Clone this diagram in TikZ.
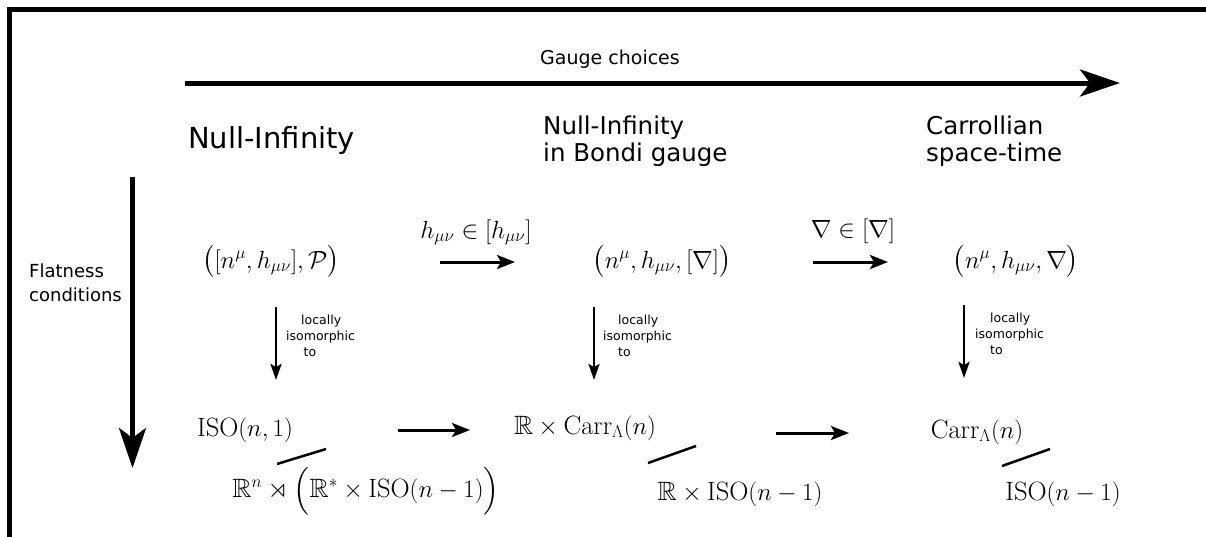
\documentclass[tikz,border=0pt]{standalone}
\usepackage{amsmath,amssymb}
\usepackage{fontspec}
\newfontfamily\dejavu{DejaVu Sans}
\usetikzlibrary{arrows.meta}
\begin{document}
\begin{tikzpicture}[x=1pt,y=-1pt,
  bigarrow/.style={line width=5pt,-{Stealth[length=40pt,width=27pt,inset=10pt]}},
  midarrow/.style={line width=3pt,-{Stealth[length=18pt,width=14pt,inset=4pt]}},
  downarrow/.style={line width=2.5pt,-{Stealth[length=16pt,width=11pt,inset=3pt]}},
  slashline/.style={line width=2.5pt},
  mathlbl/.style={inner sep=0pt,anchor=base,font=\fontsize{26.5}{31}\selectfont},
  titlebig/.style={inner sep=0pt,anchor=base west,font=\dejavu\fontsize{29}{34}\selectfont},
  title/.style={inner sep=0pt,anchor=north west,align=left,font=\dejavu\fontsize{24.5}{27}\selectfont},
  sidetext/.style={inner sep=0pt,anchor=north west,align=left,font=\dejavu\fontsize{18}{24}\selectfont},
  smalltext/.style={inner sep=0pt,anchor=north west,align=left,font=\dejavu\fontsize{12.5}{16}\selectfont},
  gaugetext/.style={inner sep=0pt,anchor=base,font=\dejavu\fontsize{19}{23}\selectfont}]
\useasboundingbox (0,0) rectangle (1206,536);
% frame
\coordinate (fbl) at (9.5,545);
\coordinate (ftl) at (9.5,9);
\coordinate (ftr) at (1215,9);
\draw[line width=5pt] (fbl) -- (ftl) -- (ftr);
% gauge choices
\node[gaugetext] (gauge) at (610,64) {Gauge choices};
\coordinate (ga) at (185,83);
\coordinate (gb) at (1120,83);
\draw[bigarrow] (ga) -- (gb);
% flatness
\node[sidetext] (flat) at (29,263.5) {Flatness\\conditions};
\coordinate (fa) at (132.5,177);
\coordinate (fb) at (132.5,468);
\draw[bigarrow] (fa) -- (fb);
% titles
\node[titlebig] (t1) at (188,148) {Null-Infinity};
\node[title] (t2) at (543,116) {Null-Infinity\\in Bondi gauge};
\node[title] (t3) at (926,116) {Carrollian\\space-time};
% row 1
\node[mathlbl] (r1a) at (271,268) {$\bigl([n^\mu,h_{\mu\nu}],\mathcal{P}\bigr)$};
\node[mathlbl] (r1b) at (662,268) {$\bigl(n^\mu,h_{\mu\nu},[\nabla]\bigr)$};
\node[mathlbl] (r1c) at (1016,268) {$\bigl(n^\mu,h_{\mu\nu},\nabla\bigr)$};
\node[mathlbl] (l1) at (476,238) {$h_{\mu\nu}\in[h_{\mu\nu}]$};
\node[mathlbl] (l2) at (853,237) {$\nabla\in[\nabla]$};
\coordinate (a1s) at (440,262);
\coordinate (a1e) at (515,262);
\coordinate (a2s) at (813,262);
\coordinate (a2e) at (888,262);
\draw[midarrow] (a1s) -- (a1e);
\draw[midarrow] (a2s) -- (a2e);
% down arrows
\coordinate (d1s) at (276,307);
\coordinate (d1e) at (276,380);
\coordinate (d2s) at (594,307);
\coordinate (d2e) at (594,380);
\coordinate (d3s) at (964,305);
\coordinate (d3e) at (964,378);
\draw[downarrow] (d1s) -- (d1e);
\draw[downarrow] (d2s) -- (d2e);
\draw[downarrow] (d3s) -- (d3e);
\node[smalltext] (i1) at (286,314.5) {\hspace*{1.2em}locally\\isomorphic\\\hspace*{1.4em}to};
\node[smalltext] (i2) at (603,314.5) {\hspace*{1.2em}locally\\isomorphic\\\hspace*{1.2em}to};
\node[smalltext] (i3) at (975,312.5) {\hspace*{1.2em}locally\\isomorphic\\\hspace*{1.2em}to};
% row 2
\node[mathlbl] (r2a) at (245,436) {$\mathrm{ISO}(n,1)$};
\node[mathlbl] (r2b) at (585,434) {$\mathbb{R}\times\mathrm{Carr}_\Lambda(n)$};
\node[mathlbl] (r2c) at (977,438) {$\mathrm{Carr}_\Lambda(n)$};
\coordinate (b1s) at (398,430);
\coordinate (b1e) at (470,430);
\coordinate (b2s) at (776,433);
\coordinate (b2e) at (849,433);
\draw[midarrow] (b1s) -- (b1e);
\draw[midarrow] (b2s) -- (b2e);
% slashes
\coordinate (s1a) at (277,464);
\coordinate (s1b) at (326,449);
\coordinate (s2a) at (648,463);
\coordinate (s2b) at (696,446);
\coordinate (s3a) at (1002,466);
\coordinate (s3b) at (1050,449);
\draw[slashline] (s1a) -- (s1b);
\draw[slashline] (s2a) -- (s2b);
\draw[slashline] (s3a) -- (s3b);
% row 3
\node[mathlbl] (r3a) at (366,497) {$\mathbb{R}^n\rtimes\Bigl(\mathbb{R}^*\times\mathrm{ISO}(n-1)\Bigr)$};
\node[mathlbl] (r3b) at (740,500) {$\mathbb{R}\times\mathrm{ISO}(n-1)$};
\node[mathlbl] (r3c) at (1063,500) {$\mathrm{ISO}(n-1)$};
\end{tikzpicture}
\end{document}
